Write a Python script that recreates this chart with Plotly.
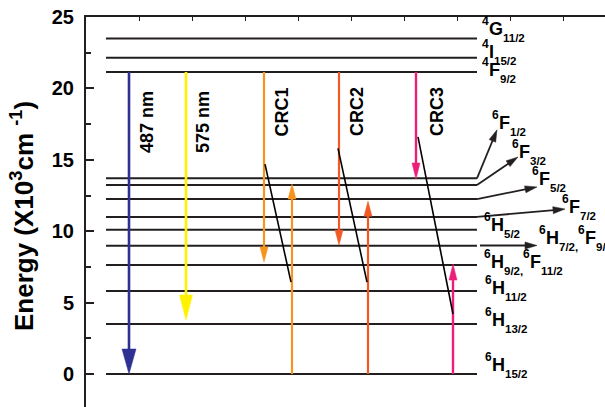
import numpy as np
import plotly.graph_objects as go

# ---------------- data ----------------
# Dy3+ energy levels (x10^3 cm^-1)
level_energy = [0.0, 3.50, 5.81, 7.63, 8.98, 10.10, 11.00, 12.25, 13.24, 13.70, 21.15, 22.15, 23.50]

# vertical transitions
trans_name = ["487 nm", "575 nm", "CRC1", "CRC1", "CRC2", "CRC2", "CRC3", "CRC3"]
trans_from = [21.15, 21.15, 21.15, 0.0, 21.15, 0.0, 21.15, 0.0]
trans_to = [0.0, 3.78, 7.84, 13.30, 9.03, 12.10, 13.65, 7.70]

# cross-relaxation connectors (start, end energy)
crc_from = [14.70, 15.80, 16.60]
crc_to = [6.44, 6.44, 4.20]

# right-hand pointer arrows (level energy -> label energy)
ptr_from = [13.70, 13.24, 12.25, 11.00, 9.00]
ptr_to = [17.10, 15.20, 13.10, 11.55, 9.00]

# level term symbols: list of (kind, text)
term_parts = [
    [("sup", "4"), ("main", "G"), ("sub", "11/2")],
    [("sup", "4"), ("main", "I"), ("sub", "15/2")],
    [("sup", "4"), ("main", "F"), ("sub", "9/2")],
    [("sup", "6"), ("main", "F"), ("sub", "1/2")],
    [("sup", "6"), ("main", "F"), ("sub", "3/2")],
    [("sup", "6"), ("main", "F"), ("sub", "5/2")],
    [("sup", "6"), ("main", "F"), ("sub", "7/2")],
    [("sup", "6"), ("main", "H"), ("sub", "5/2")],
    [("sup", "6"), ("main", "H"), ("sub", "7/2"), ("comma", ","), ("sup", "6"), ("main", "F"), ("sub", "9/2")],
    [("sup", "6"), ("main", "H"), ("sub", "9/2"), ("comma", ","), ("sup", "6"), ("main", "F"), ("sub", "11/2")],
    [("sup", "6"), ("main", "H"), ("sub", "11/2")],
    [("sup", "6"), ("main", "H"), ("sub", "13/2")],
    [("sup", "6"), ("main", "H"), ("sub", "15/2")],
]
term_energy = [24.16, 22.55, 21.29, 17.58, 15.55, 13.66, 11.69, 10.43, 9.52, 7.84, 6.02, 3.78, 0.63]

# ---------------- layout / style ----------------
W, H = 605, 407
ML, MT = 86, 17
Y0, Y1 = -2.31, 25.0
PX_W = W - ML
PY = (H - MT) / (Y1 - Y0)  # px per energy unit

LEVEL_X = (20, 391)
trans_x = [43, 100, 178, 206, 253, 282, 330, 367]
trans_color = ["#2E3192", "#FFF200", "#F7941D", "#F7941D", "#F15A24", "#F15A24", "#EC1E79", "#EC1E79"]
trans_lw = [2.6, 2.6, 2.2, 2.2, 2.2, 2.2, 2.4, 2.4]
trans_head = [(25, 14), (25, 13), (15, 8), (15, 8), (15, 8), (15, 8), (16, 8), (16, 8)]
label_x = [61, 117, 196, 271, 351]
label_e = [17.65, 17.65, 18.31, 18.35, 18.35]
label_txt = ["487 nm", "575 nm", "CRC1", "CRC2", "CRC3"]
crc_x0 = [179, 252, 332]
crc_x1 = [205, 281, 367]
ptr_x0 = [391, 391, 391, 391, 394]
ptr_x1 = [411, 432, 451, 479, 451]
term_x = [395, 395, 395, 405, 425, 445, 475, 397, 452, 397, 398, 398, 398]

INK = "#231F20"
FONT = "Liberation Sans"

fig = go.Figure()


def add_arrow(x0, e0, x1, e1, color, lw, hl, hw):
    p0 = np.array([x0, e0 * PY])
    p1 = np.array([x1, e1 * PY])
    d = p1 - p0
    u = d / np.hypot(*d)
    n = np.array([-u[1], u[0]])
    base = p1 - u * hl
    shaft_end = base + u * 1.0
    c1 = base + n * hw / 2
    c2 = base - n * hw / 2
    fig.add_trace(go.Scatter(
        x=[p0[0], shaft_end[0]], y=[p0[1] / PY, shaft_end[1] / PY], mode="lines",
        line=dict(color=color, width=lw), hoverinfo="skip"))
    tri = [p1, c1, c2, p1]
    fig.add_trace(go.Scatter(
        x=[p[0] for p in tri], y=[p[1] / PY for p in tri], mode="lines",
        fill="toself", fillcolor=color, line=dict(color=color, width=0.5), hoverinfo="skip"))


# level lines
lx, ly = [], []
for e in level_energy:
    lx += [LEVEL_X[0], LEVEL_X[1], None]
    ly += [e, e, None]
fig.add_trace(go.Scatter(x=lx, y=ly, mode="lines", line=dict(color=INK, width=2), hoverinfo="skip"))

# vertical transitions
for i in range(len(trans_from)):
    add_arrow(trans_x[i], trans_from[i], trans_x[i], trans_to[i],
              trans_color[i], trans_lw[i], *trans_head[i])

# cross-relaxation connectors
for i in range(len(crc_from)):
    fig.add_trace(go.Scatter(x=[crc_x0[i], crc_x1[i]], y=[crc_from[i], crc_to[i]], mode="lines",
                             line=dict(color="black", width=1.6), hoverinfo="skip"))

# pointer arrows to term labels
for i in range(len(ptr_from)):
    add_arrow(ptr_x0[i], ptr_from[i], ptr_x1[i], ptr_to[i], INK, 1.8, 12, 7)

annotations = []
# rotated transition labels
for x, e, t in zip(label_x, label_e, label_txt):
    annotations.append(dict(x=x, y=e, xref="x", yref="y", text=t, showarrow=False, textangle=-90,
                            font=dict(family=FONT, size=18, color="black", weight="bold"),
                            xanchor="center", yanchor="middle"))

# term symbols built from pieces
SIZES = {"sup": 12, "main": 18, "sub": 11.5, "comma": 11.5}
SHIFT = {"sup": 8, "main": 0, "sub": -9, "comma": -9}
WIDTH = {"0": .556, "1": .556, "2": .556, "3": .556, "4": .556, "5": .556, "6": .556,
         "7": .556, "9": .556, "/": .278, ",": .278, "H": .722, "F": .611, "G": .778, "I": .278}
for x, e, parts in zip(term_x, term_energy, term_parts):
    adv = 0.0
    for kind, txt in parts:
        annotations.append(dict(x=x, y=e, xref="x", yref="y", text=txt, showarrow=False,
                                xanchor="left", yanchor="middle", xshift=adv, yshift=SHIFT[kind],
                                font=dict(family=FONT, size=SIZES[kind], color="black", weight="bold"),
                                borderpad=0))
        adv += sum(WIDTH.get(c, .556) for c in txt) * SIZES[kind]

# y-axis title
annotations.append(dict(x=0, y=(H - 216) / (H - MT), xref="paper", yref="paper", xshift=-64,
                        text="Energy (X10<sup>3</sup>cm <sup>-1</sup>)", showarrow=False, textangle=-90,
                        font=dict(family=FONT, size=26, color="black", weight="bold"),
                        xanchor="center", yanchor="middle"))

fig.update_layout(
    width=W, height=H, margin=dict(l=ML, r=0, t=MT, b=0, pad=0),
    plot_bgcolor="white", paper_bgcolor="white", showlegend=False,
    annotations=annotations,
    xaxis=dict(range=[0, PX_W], side="top", showline=True, linecolor=INK, linewidth=2,
               ticks="inside", ticklen=4, tickwidth=1, tickcolor=INK, tick0=0, dtick=53,
               showticklabels=False, showgrid=False, zeroline=False, fixedrange=True),
    yaxis=dict(range=[Y0, Y1], showline=True, linecolor=INK, linewidth=2,
               ticks="inside", ticklen=8, tickwidth=2, tickcolor=INK,
               tickvals=[0, 5, 10, 15, 20, 25], ticklabelstandoff=6,
               minor=dict(ticks="inside", ticklen=5, tickwidth=1.5, tickcolor=INK, tick0=0, dtick=2.5),
               tickfont=dict(family=FONT, size=20, color="black", weight="bold"),
               showgrid=False, zeroline=False, fixedrange=True),
)

fig.write_html("out.html")
